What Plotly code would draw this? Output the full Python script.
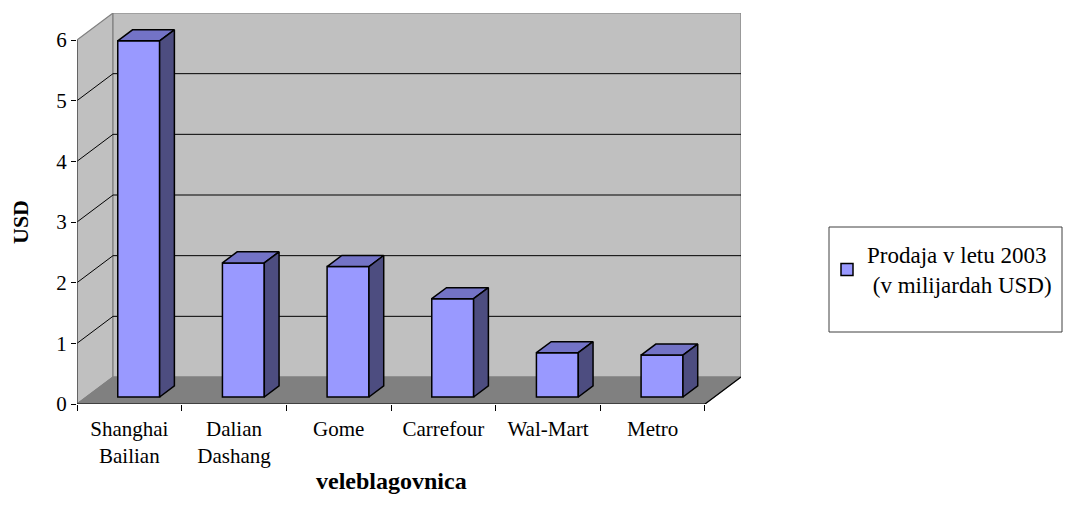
import plotly.graph_objects as go

# podatki
trgovci = ["Shanghai<br>Bailian", "Dalian<br>Dashang", "Gome", "Carrefour", "Wal-Mart", "Metro"]
prodaja = [5.87, 2.21, 2.15, 1.62, 0.73, 0.69]
y_ticks = [0, 1, 2, 3, 4, 5, 6]
serija = "Prodaja v letu 2003<br> (v milijardah USD)"

# psevdo-3D geometrija (v enotah osi)
DX, DY = 0.344, 0.445      # globina celotne scene
D0, D1 = 0.26, 0.67        # sprednja / zadnja ploskev stolpca
W = 0.40                   # sirina stolpca
N = len(trgovci)
YMAX = y_ticks[-1]
FONT = "Liberation Serif, Times New Roman, serif"

fig = go.Figure()

# stene in tla
shapes = []
def poly(pts, fill, line="#808080", lw=1.2):
    path = "M " + " L ".join(f"{x},{y}" for x, y in pts) + " Z"
    shapes.append(dict(type="path", path=path, xref="x", yref="y", layer="below",
                       fillcolor=fill, line=dict(color=line, width=lw)))

poly([(0, 0), (DX, DY), (DX, YMAX + DY), (0, YMAX)], "#C0C0C0")
poly([(DX, DY), (N + DX, DY), (N + DX, YMAX + DY), (DX, YMAX + DY)], "#C0C0C0")
poly([(0, 0), (N, 0), (N + DX, DY), (DX, DY)], "#808080", line="#808080")
for v in y_ticks[1:-1]:
    shapes.append(dict(type="path", xref="x", yref="y", layer="below",
                       path=f"M 0,{v} L {DX},{v + DY} L {N + DX},{v + DY}",
                       line=dict(color="black", width=1)))
# sprednji robovi
shapes.append(dict(type="line", xref="x", yref="y", x0=0, y0=0, x1=0, y1=YMAX,
                   line=dict(color="#404040", width=1.2)))
shapes.append(dict(type="line", xref="x", yref="y", x0=0, y0=0, x1=N, y1=0,
                   line=dict(color="black", width=1.2)))
shapes.append(dict(type="line", xref="x", yref="y", x0=N, y0=0, x1=N + DX, y1=DY,
                   line=dict(color="black", width=1.2)))
# okvir legende (stran ima 8 px odmika, zato -8)
L, T = 69, 5
PW, PH = 664, 391
shapes.append(dict(type="rect", xref="paper", yref="paper",
                   x0=(829 - 8 - L) / PW, x1=(1062 - 8 - L) / PW,
                   y0=(396 - (332 - 8)) / PH, y1=(396 - (227 - 8)) / PH,
                   line=dict(color="#404040", width=1), fillcolor="white"))

# stolpci: sprednja ploskev
xc = [i + 0.5 + D0 * DX for i in range(N)]
b0 = D0 * DY
fig.add_trace(go.Bar(x=xc, y=prodaja, base=b0, width=W, name=serija,
                     marker=dict(color="#9999FF", line=dict(color="black", width=1.5)),
                     hovertemplate="%{y}<extra></extra>"))

ddx, ddy = (D1 - D0) * DX, (D1 - D0) * DY
top_x, top_y, side_x, side_y = [], [], [], []
for c, v in zip(xc, prodaja):
    xl, xr, yt = c - W / 2, c + W / 2, v + b0
    top_x += [xl, xr, xr + ddx, xl + ddx, xl, None]
    top_y += [yt, yt, yt + ddy, yt + ddy, yt, None]
    side_x += [xr, xr, xr + ddx, xr + ddx, xr, None]
    side_y += [b0, yt, yt + ddy, b0 + ddy, b0, None]
fig.add_trace(go.Scatter(x=top_x, y=top_y, fill="toself", fillcolor="#7373C6", mode="lines",
                         line=dict(color="black", width=1.5), showlegend=False, hoverinfo="skip"))
fig.add_trace(go.Scatter(x=side_x, y=side_y, fill="toself", fillcolor="#4D4D80", mode="lines",
                         line=dict(color="black", width=1.5), showlegend=False, hoverinfo="skip"))

fig.update_layout(
    width=1064, height=512, margin=dict(l=L, r=1064 - L - PW, t=T, b=512 - T - PH),
    paper_bgcolor="white", plot_bgcolor="white", shapes=shapes, showlegend=True,
    font=dict(family=FONT, size=21, color="black"),
    xaxis=dict(range=[0, N + DX], tickvals=[i + 0.5 for i in range(N)], ticktext=trgovci,
               ticks="", showgrid=False, zeroline=False, showline=False,
               ticklabelstandoff=10, fixedrange=True),
    xaxis2=dict(range=[0, N + DX], overlaying="x", side="bottom", tickvals=list(range(N + 1)),
                showticklabels=False, ticks="outside", ticklen=6, tickcolor="black",
                showgrid=False, zeroline=False, showline=False),
    yaxis=dict(range=[0, YMAX + DY], tickvals=y_ticks, ticks="outside", ticklen=5,
               tickcolor="black", showgrid=False, zeroline=False, showline=False),
    legend=dict(x=(827 - 8 - L) / PW, y=(396 - (233 - 8)) / PH, xanchor="left", yanchor="top",
                bgcolor="rgba(0,0,0,0)", borderwidth=0, font=dict(size=23)),
)
fig.add_trace(go.Scatter(x=[0], y=[0], xaxis="x2", mode="markers", marker=dict(opacity=0),
                         showlegend=False, hoverinfo="skip"))
fig.add_annotation(text="<b>veleblagovnica</b>", x=N / 2, y=0, xref="x", yref="y",
                   yanchor="middle", yshift=-77, showarrow=False, font=dict(size=24))
fig.add_annotation(text="<b>USD</b>", x=(12 - L) / PW, y=3, xref="paper", yref="y",
                   xanchor="center", yanchor="middle",
                   textangle=-90, showarrow=False, font=dict(size=22))

fig.write_html("out.html")
